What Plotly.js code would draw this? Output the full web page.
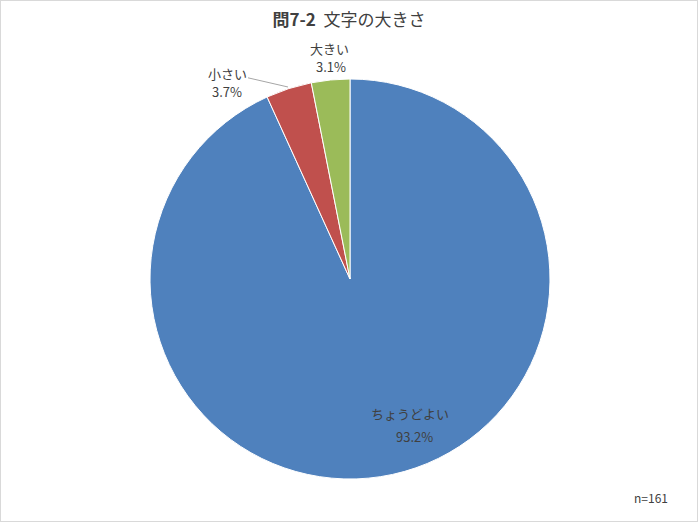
<!DOCTYPE html>
<html>
<head>
<meta charset="utf-8">
<script src="https://cdn.plot.ly/plotly-3.0.1.min.js"></script>
<style>
  body { margin: 0; background: #fff; }
  #chart { position: absolute; left: 0px; top: 0px; width: 696px; height: 520px; border: 1px solid #d9d9d9; }
</style>
</head>
<body>
<div id="chart"></div>
<script>
// 問7-2 文字の大きさ (n=161)
const labels = ["ちょうどよい", "小さい", "大きい"];
const shares = [93.2, 3.7, 3.1];
const colors = ["#4f81bd", "#c0504d", "#9bbb59"];
const sampleNote = "n=161";

const font = "Meiryo, 'Noto Sans CJK JP', sans-serif";
const textColor = "#404040";

// label spots in pixels of the chart box (pie centre 349,278, radius 200)
// name row at y, percent row at py; tip = end of leader line
const labelSpots = [
  { x: 409, y: 412, px: 413, py: 435 },
  { x: 226, y: 72, px: 226, py: 91, tipX: 287, tipY: 86 },
  { x: 328, y: 47, px: 330, py: 66 },
];
const toX = (x) => (x - 149) / 400;
const toY = (y) => (478 - y) / 400;

const trace = {
  type: "pie",
  labels: labels,
  values: shares,
  sort: false,
  direction: "clockwise",
  rotation: 0,
  marker: { colors: colors, line: { color: "#ffffff", width: 1 } },
  textinfo: "none",
  hoverinfo: "label+percent",
  showlegend: false,
};

const labelFont = { family: font, size: 13, color: textColor };
const annotations = [];
labels.forEach((lab, i) => {
  const s = labelSpots[i];
  const name = {
    text: lab,
    xref: "paper", yref: "paper",
    font: labelFont,
    showarrow: false,
  };
  if (s.tipX !== undefined) {
    name.x = toX(s.tipX);
    name.y = toY(s.tipY);
    name.showarrow = true;
    name.arrowhead = 0;
    name.arrowwidth = 1;
    name.arrowcolor = "#a6a6a6";
    name.ax = s.x - s.tipX;
    name.ay = s.y - s.tipY;
    name.standoff = 0;
  } else {
    name.x = toX(s.x);
    name.y = toY(s.y);
    name.xanchor = "center";
    name.yanchor = "middle";
  }
  annotations.push(name);
  annotations.push({
    text: shares[i].toFixed(1) + "%",
    xref: "paper", yref: "paper",
    x: toX(s.px), y: toY(s.py),
    xanchor: "center", yanchor: "middle",
    showarrow: false,
    font: labelFont,
  });
});

annotations.push({
  text: sampleNote,
  xref: "paper", yref: "paper",
  x: toX(669), y: toY(496),
  xanchor: "right", yanchor: "middle",
  showarrow: false,
  font: { family: font, size: 12, color: textColor },
});

const layout = {
  width: 696,
  height: 520,
  margin: { l: 149, r: 147, t: 78, b: 42 },
  paper_bgcolor: "#ffffff",
  title: {
    text: "<b>問7-2</b>  文字の大きさ",
    font: { family: font, size: 17, color: textColor },
    x: 0.5,
    xanchor: "center",
    y: 0.963,
    yanchor: "middle",
  },
  annotations: annotations,
};

Plotly.newPlot("chart", [trace], layout, { displayModeBar: false });
</script>
</body>
</html>
